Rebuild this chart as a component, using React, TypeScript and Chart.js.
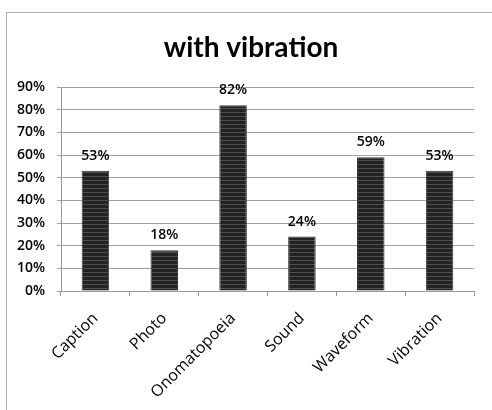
import React, { useEffect, useRef } from "react";
import { Chart, registerables } from "chart.js";

Chart.register(...registerables);

const categories = ["Caption", "Photo", "Onomatopoeia", "Sound", "Waveform", "Vibration"];
const values = [53, 18, 82, 24, 59, 53];
const yTicks = [0, 10, 20, 30, 40, 50, 60, 70, 80, 90];
const title = "with vibration";

const TITLE_FONT = "Lato, 'Open Sans', sans-serif";
const FONT = "'Open Sans', Lato, sans-serif";

function makePattern(): CanvasPattern | string {
  const c = document.createElement("canvas");
  c.width = 4;
  c.height = 4;
  const g = c.getContext("2d");
  if (!g) return "#262626";
  g.fillStyle = "#232323";
  g.fillRect(0, 0, 4, 4);
  g.fillStyle = "#4e4e4e";
  g.fillRect(0, 0, 4, 1);
  const p = g.createPattern(c, "repeat");
  return p || "#262626";
}

const framePlugin = {
  id: "frame",
  beforeDraw(chart: any) {
    const ctx = chart.ctx;
    ctx.save();
    ctx.fillStyle = "#ffffff";
    ctx.fillRect(0, 0, chart.width, chart.height);
    ctx.strokeStyle = "#b4b4b4";
    ctx.lineWidth = 1;
    ctx.strokeRect(6.5, 12.5, chart.width + 20, chart.height + 20);
    ctx.fillStyle = "#000000";
    ctx.font = `bold 28px ${TITLE_FONT}`;
    ctx.textAlign = "center";
    ctx.textBaseline = "alphabetic";
    ctx.fillText(title, 251, 57);
    ctx.restore();
  },
};

const labelPlugin = {
  id: "barLabels",
  afterDatasetsDraw(chart: any) {
    const ctx = chart.ctx;
    const meta = chart.getDatasetMeta(0);
    ctx.save();
    ctx.fillStyle = "#000000";
    ctx.font = `600 14px ${FONT}`;
    ctx.textAlign = "center";
    ctx.textBaseline = "alphabetic";
    meta.data.forEach((bar: any, i: number) => {
      ctx.fillText(values[i] + "%", bar.x, bar.y - 11);
    });
    ctx.restore();
  },
};

export default function App() {
  const ref = useRef<HTMLCanvasElement | null>(null);
  useEffect(() => {
    if (!ref.current) return;
    const chart = new Chart(ref.current, {
      type: "bar",
      data: {
        labels: categories,
        datasets: [
          {
            data: values,
            backgroundColor: makePattern() as any,
            borderColor: "#3a3a3a",
            borderWidth: 1,
            categoryPercentage: 1,
            barPercentage: 0.4,
          },
        ],
      },
      options: {
        responsive: false,
        animation: false,
        devicePixelRatio: 1,
        layout: { padding: { left: 0, top: 87, right: 18, bottom: 0 } },
        plugins: {
          legend: { display: false },
          tooltip: { enabled: false },
          title: { display: false },
        },
        scales: {
          x: {
            grid: {
              offset: true,
              drawOnChartArea: false,
              drawTicks: true,
              tickLength: 5,
              color: "#999999",
            },
            border: { color: "#999999" },
            ticks: {
              autoSkip: false,
              minRotation: 45,
              maxRotation: 45,
              padding: 13,
              color: "#000000",
              font: { family: FONT, size: 16, weight: "500" as any },
            },
            afterFit(scale: any) {
              scale.height = 119;
            },
          },
          y: {
            min: 0,
            max: 90,
            afterBuildTicks(scale: any) {
              scale.ticks = yTicks.map((v) => ({ value: v }));
            },
            grid: { color: "#a0a0a0", tickLength: 4 },
            border: { color: "#999999" },
            ticks: {
              padding: 12,
              color: "#000000",
              font: { family: FONT, size: 14, weight: "600" as any },
              callback: (v: any) => v + "%",
            },
            afterFit(scale: any) {
              scale.width = 61;
            },
          },
        },
      },
      plugins: [framePlugin, labelPlugin],
    });
    return () => chart.destroy();
  }, []);
  return (
    <div style={{ position: "absolute", left: 0, top: 0, width: 492, height: 410 }}>
      <canvas ref={ref} width={492} height={410} style={{ display: "block" }} />
    </div>
  );
}
